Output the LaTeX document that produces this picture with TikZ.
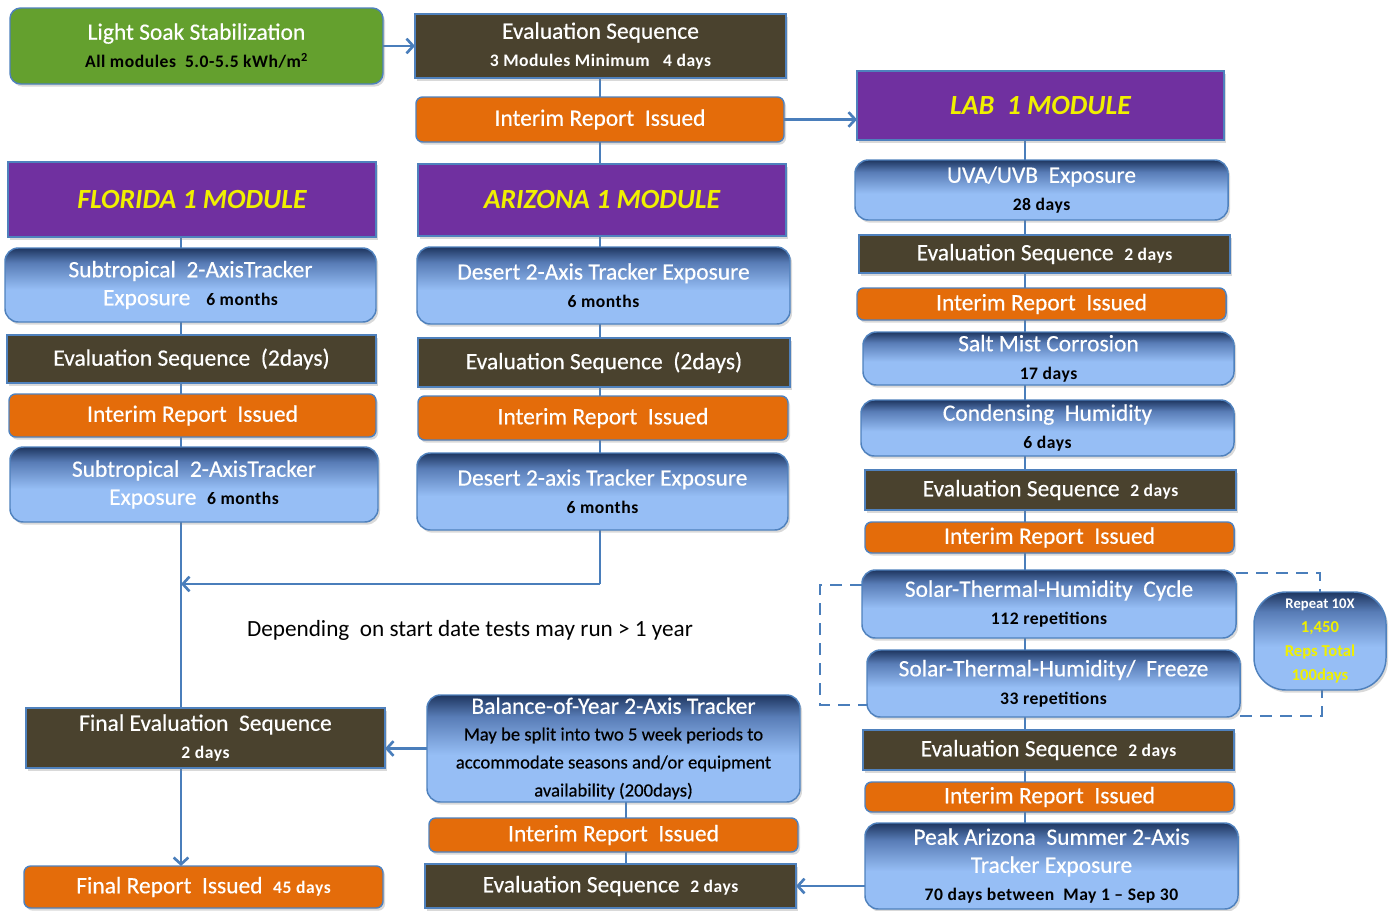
\documentclass[tikz,border=0pt]{standalone}
\usepackage{fontspec}
\setmainfont{Carlito}
\newfontfamily\subfont[LetterSpace=3]{Carlito}
\newfontfamily\ttlfont[FakeBold=0.4]{Carlito}
\usetikzlibrary{arrows.meta,shadows,backgrounds}
\definecolor{lnc}{RGB}{74,126,187}
\definecolor{bord}{RGB}{79,129,189}
\definecolor{olive}{RGB}{74,66,46}
\definecolor{orng}{RGB}{228,108,10}
\definecolor{purp}{RGB}{112,48,160}
\definecolor{grn}{RGB}{100,160,46}
\definecolor{lb}{RGB}{150,190,245}
\definecolor{mb}{RGB}{88,124,182}
\definecolor{db}{RGB}{30,54,96}
\definecolor{yel}{RGB}{240,240,0}
\pgfdeclareverticalshading{bluegrad}{100bp}{color(0bp)=(lb); color(25bp)=(lb); color(47bp)=(lb); color(65bp)=(mb); color(75bp)=(db); color(100bp)=(db)}
\newcommand\ttl{\ttlfont\fontsize{17.6}{21}\selectfont}
\newcommand\sbt{\subfont\bfseries\fontsize{13.2}{16}\selectfont}
\newcommand\hdr{\bfseries\itshape\fontsize{20.8}{24}\selectfont}
\newcommand\smb{\color{black}\fontsize{14}{17.5}\selectfont}
\newcommand\mybox[7]{\node[#2,minimum width={(#5-#3)*0.75pt},minimum height={(#6-#4)*0.75pt}] (#1) at ({(#3+#5)/2},{(#4+#6)/2}) {#7};}
\tikzset{
 base/.style={draw=bord, line width=1.1pt, inner sep=0pt, outer sep=0pt, align=center, text=white, font=\ttl, drop shadow={opacity=0.3,shadow xshift=1.5pt,shadow yshift=-2pt}},
 greenbox/.style={base, fill=grn, rounded corners=8pt},
 evalbox/.style={base, fill=olive},
 orangebox/.style={base, fill=orng, rounded corners=5pt},
 purplebox/.style={base, fill=purp, text=yel, font=\hdr},
 bluebox/.style={base, shading=bluegrad, rounded corners=10pt},
 cline/.style={draw=lnc, line width=2.2pt},
 arr/.style={cline, -{Straight Barb[length=5pt,width=11pt,line width=2pt]}},
 dsh/.style={draw=lnc, line width=2.2pt, dash pattern=on 9pt off 6pt},
}
\begin{document}
\begin{tikzpicture}[x=0.75pt,y=-0.75pt]
\useasboundingbox (0,0) rectangle (1398,910);
% top
\mybox{ls}{greenbox}{10}{8}{383}{84}{Light Soak Stabilization\\{\sbt\color{black}All modules\ \ 5.0-5.5 kWh/m\textsuperscript{2}}}
\mybox{ev0}{evalbox}{415}{14}{786}{78}{Evaluation Sequence\\{\sbt 3 Modules\ Minimum\ \ \ 4 days}}
\mybox{ir0}{orangebox}{416}{97}{784}{142}{Interim Report\ \ Issued}
\mybox{lab}{purplebox}{857}{71}{1224}{140}{LAB\ \ 1 MODULE}
\mybox{fl}{purplebox}{8}{162}{376}{237}{FLORIDA 1 MODULE}
\mybox{az}{purplebox}{418}{164}{786}{236}{ARIZONA 1 MODULE}
% florida
\mybox{st1}{bluebox}{5}{248}{376}{322}{Subtropical\ \ 2-AxisTracker\\Exposure\ \ \ {\sbt\color{black}6 months}}
\mybox{fe1}{evalbox}{7}{335}{376}{383}{Evaluation Sequence\ \ (2days)}
\mybox{fi1}{orangebox}{9}{394}{376}{437}{Interim Report\ \ Issued}
\mybox{st2}{bluebox}{10}{447}{378}{522}{Subtropical\ \ 2-AxisTracker\\Exposure\ \ {\sbt\color{black}6 months}}
% arizona
\mybox{dz1}{bluebox}{417}{247}{790}{324}{Desert 2-Axis Tracker Exposure\\{\sbt\color{black}6 months}}
\mybox{ae1}{evalbox}{418}{338}{790}{387}{Evaluation Sequence\ \ (2days)}
\mybox{ai1}{orangebox}{418}{396}{788}{440}{Interim Report\ \ Issued}
\mybox{dz2}{bluebox}{417}{453}{788}{530}{Desert 2-axis Tracker Exposure\\{\sbt\color{black}6 months}}
% lab
\mybox{uv}{bluebox}{855}{160}{1228}{220}{UVA/UVB\ \ Exposure\\{\sbt\color{black}28 days}}
\mybox{le1}{evalbox}{859}{235}{1230}{273}{Evaluation Sequence\ \ {\sbt 2 days}}
\mybox{li1}{orangebox}{857}{288}{1226}{320}{Interim Report\ \ Issued}
\mybox{sm}{bluebox}{863}{332}{1234}{385}{Salt Mist Corrosion\\{\sbt\color{black}17 days}}
\mybox{ch}{bluebox}{861}{400}{1234}{456}{Condensing\ \ Humidity\\{\sbt\color{black}6 days}}
\mybox{le2}{evalbox}{865}{470}{1236}{510}{Evaluation Sequence\ \ {\sbt 2 days}}
\mybox{li2}{orangebox}{865}{522}{1234}{553}{Interim Report\ \ Issued}
\mybox{sc}{bluebox}{862}{570}{1236}{638}{Solar-Thermal-Humidity\ \ Cycle\\{\sbt\color{black}112 repetitions}}
\mybox{sf}{bluebox}{867}{650}{1240}{717}{Solar-Thermal-Humidity/\ \ Freeze\\{\sbt\color{black}33 repetitions}}
\mybox{le3}{evalbox}{863}{730}{1234}{770}{Evaluation Sequence\ \ {\sbt 2 days}}
\mybox{li3}{orangebox}{865}{782}{1234}{812}{Interim Report\ \ Issued}
\mybox{pk}{bluebox}{865}{823}{1238}{909}{Peak Arizona\ \ Summer 2-Axis\\Tracker Exposure\\{\sbt\color{black}70 days between\ \ May 1 – Sep 30}}
\mybox{rp}{bluebox,rounded corners=24pt,font=\bfseries\fontsize{12.5}{17.8}\selectfont}{1254}{592}{1386}{690}{{\fontsize{11}{17.8}\selectfont Repeat 10X}\\{\color{yel}1,450}\\{\color{yel}Reps Total}\\{\color{yel}100days}}
% bottom
\mybox{fe}{evalbox}{26}{708}{385}{768}{Final Evaluation\ \ Sequence\\{\sbt 2 days}}
\mybox{fr}{orangebox}{24}{866}{383}{908}{Final Report\ \ Issued\ \ {\sbt 45 days}}
\mybox{by}{bluebox}{427}{695}{800}{802}{Balance-of-Year 2-Axis Tracker\\[-1pt]{\smb May be split into two 5 week periods to}\\{\smb accommodate seasons and/or equipment}\\{\smb availability (200days)}}
\mybox{bi}{orangebox}{429}{818}{798}{852}{Interim Report\ \ Issued}
\mybox{evb}{evalbox}{425}{864}{796}{908}{Evaluation Sequence\ \ {\sbt 2 days}}
\node[font=\fontsize{17.4}{20}\selectfont, text=black, inner sep=0pt] (dep) at (470,630) {Depending\ \ on start date tests may run > 1 year};
% connectors
\begin{scope}[on background layer]
\coordinate (fx) at (181,0);
\coordinate (ax) at (600,0);
\coordinate (mj) at (600,584);
\coordinate (lx) at (1025,0);
\coordinate (bx) at (626,0);
\draw[arr] (ls.east) -- (ev0.west);
\draw[cline] (ax |- ev0.south) -- (ax |- az.north);
\draw[arr] (ir0.east) -- (lab.west |- ir0.east);
\draw[cline] (fx |- fl.south) -- (fx |- fe.north);
\draw[arr] (fx |- fe.south) -- (fx |- fr.north);
\draw[cline] (ax |- az.south) -- (mj);
\draw[arr] (mj) -- (fx |- mj);
\draw[cline] (lx |- lab.south) -- (lx |- pk.north);
\draw[cline] (bx |- by.south) -- (bx |- evb.north);
\draw[arr] (by.west) -- (fe.east |- by.west);
\draw[arr] (pk.west |- evb.east) -- (evb.east);
\coordinate (d1) at (820,585);
\coordinate (d2) at (820,705);
\coordinate (d3) at (1320,573);
\coordinate (d4) at (1322,716);
\draw[dsh] (sc.west |- d1) -- (d1) -- (d2) -- (sf.west |- d2);
\draw[dsh] (sc.east |- d3) -- (d3) -- (d3 |- rp.north);
\draw[dsh] (sf.east |- d4) -- (d4) -- (d4 |- rp.south);
\end{scope}
\end{tikzpicture}
\end{document}
